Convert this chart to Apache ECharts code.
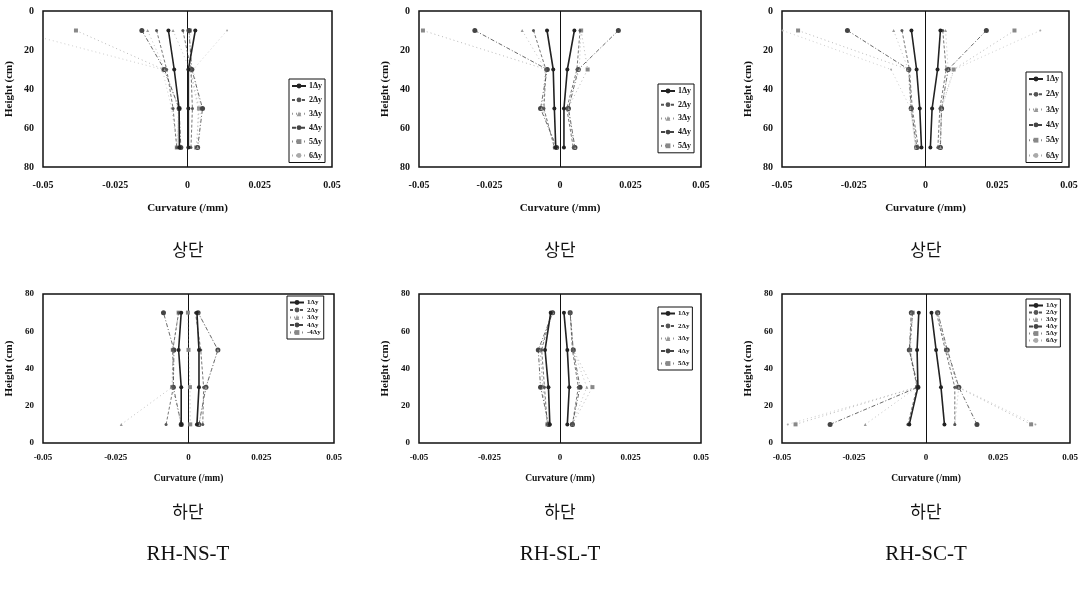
<!DOCTYPE html>
<html><head><meta charset="utf-8">
<script src="https://cdn.jsdelivr.net/npm/echarts@6/dist/echarts.min.js"></script>
<style>html,body{margin:0;padding:0;background:#fff;}#c{width:1086px;height:591px;}</style>
</head><body><div id="c"></div>
<script>
// heights of the measuring sections (cm)
const heights = [10, 30, 50, 70];
const xTicks = [-0.05, -0.025, 0, 0.025, 0.05];
const yTicks = [0, 20, 40, 60, 80];

const legendTop6 = ['1Δy','2Δy','3Δy','4Δy','5Δy','6Δy'];
const legendTop5 = ['1Δy','2Δy','3Δy','4Δy','5Δy'];
const legendNSbot = ['1Δy','2Δy','3Δy','4Δy','-4Δy'];

const panelTitles = ['RH-NS-T', 'RH-SL-T', 'RH-SC-T'];
const rowLabels = ['상단', '하단'];

// curvature values (/mm) at heights 10,30,50,70 — negative-side branch (L) and positive-side branch (R)
// RH-NS-T upper
const nsTopL = [
  [-0.0066,-0.0046,-0.0029,-0.0028],
  [-0.0107,-0.0072,-0.0050,-0.0037],
  [-0.0138,-0.0078,-0.0032,-0.0034],
  [-0.0158,-0.0080,-0.0029,-0.0023],
  [-0.0386,-0.0083,-0.0029,-0.0037],
  [-0.0600,-0.0087,-0.0055,-0.0036]
];
const nsTopR = [
  [0.0027,0.0003,0.0003,0.0003],
  [-0.0016,0.0012,0.0017,0.0012],
  [-0.0050,0.0008,0.0037,0.0035],
  [0.0005,0.0015,0.0052,0.0035],
  [0.0008,0.0010,0.0040,0.0030],
  [0.0137,0.0020,0.0045,0.0040]
];
// RH-SL-T upper
const slTopL = [
  [-0.0046,-0.0024,-0.0020,-0.0015],
  [-0.0094,-0.0050,-0.0057,-0.0020],
  [-0.0134,-0.0052,-0.0065,-0.0012],
  [-0.0302,-0.0045,-0.0069,-0.0012],
  [-0.0486,-0.0048,-0.0060,-0.0018]
];
const slTopR = [
  [0.0051,0.0026,0.0014,0.0014],
  [0.0071,0.0060,0.0024,0.0047],
  [0.0075,0.0068,0.0030,0.0053],
  [0.0207,0.0065,0.0030,0.0053],
  [0.0075,0.0098,0.0028,0.0050]
];
// RH-SC-T upper
const scTopL = [
  [-0.0049,-0.0031,-0.0020,-0.0014],
  [-0.0082,-0.0056,-0.0046,-0.0025],
  [-0.0111,-0.0060,-0.0052,-0.0035],
  [-0.0272,-0.0058,-0.0050,-0.0030],
  [-0.0444,-0.0060,-0.0050,-0.0033],
  [-0.0498,-0.0120,-0.0052,-0.0035]
];
const scTopR = [
  [0.0052,0.0042,0.0023,0.0017],
  [0.0060,0.0072,0.0050,0.0043],
  [0.0070,0.0079,0.0056,0.0052],
  [0.0212,0.0079,0.0056,0.0052],
  [0.0310,0.0098,0.0055,0.0050],
  [0.0400,0.0100,0.0056,0.0050]
];
// RH-NS-T lower
const nsBotL = [
  [-0.0025,-0.0025,-0.0034,-0.0025],
  [-0.0077,-0.0052,-0.0054,-0.0034],
  [-0.0231,-0.0056,-0.0054,-0.0034],
  [-0.0025,-0.0052,-0.0050,-0.0086],
  [-0.0025,-0.0056,-0.0054,-0.0034]
];
const nsBotR = [
  [0.0029,0.0036,0.0036,0.0029],
  [0.0049,0.0052,0.0042,0.0024],
  [0.0036,0.0060,0.0101,0.0033],
  [0.0036,0.0060,0.0101,0.0033],
  [0.0006,0.0005,0.0000,-0.0002]
];
// RH-SL-T lower
const slBotL = [
  [-0.0036,-0.0041,-0.0053,-0.0033],
  [-0.0045,-0.0055,-0.0065,-0.0030],
  [-0.0045,-0.0060,-0.0070,-0.0026],
  [-0.0040,-0.0069,-0.0077,-0.0026],
  [-0.0045,-0.0062,-0.0070,-0.0030]
];
const slBotR = [
  [0.0026,0.0033,0.0026,0.0014],
  [0.0044,0.0065,0.0044,0.0036],
  [0.0044,0.0095,0.0047,0.0036],
  [0.0044,0.0071,0.0047,0.0036],
  [0.0044,0.0115,0.0047,0.0036]
];
// RH-SC-T lower
const scBotL = [
  [-0.0058,-0.0028,-0.0031,-0.0025],
  [-0.0063,-0.0031,-0.0058,-0.0046],
  [-0.0211,-0.0031,-0.0055,-0.0051],
  [-0.0333,-0.0028,-0.0058,-0.0051],
  [-0.0453,-0.0031,-0.0055,-0.0046],
  [-0.0480,-0.0030,-0.0055,-0.0046]
];
const scBotR = [
  [0.0064,0.0052,0.0035,0.0019],
  [0.0100,0.0100,0.0067,0.0036],
  [0.0100,0.0114,0.0074,0.0041],
  [0.0177,0.0114,0.0074,0.0041],
  [0.0365,0.0110,0.0070,0.0040],
  [0.0380,0.0114,0.0070,0.0041]
];

const styles = [
  {type:'solid', width:1.6, color:'#222', symbol:'circle', size:4},
  {type:[3,2], width:0.8, color:'#555', symbol:'circle', size:3},
  {type:[1,3], width:0.6, color:'#999', symbol:'triangle', size:3},
  {type:[4,2,1,2], width:0.8, color:'#444', symbol:'circle', size:5},
  {type:[1,3], width:0.6, color:'#888', symbol:'rect', size:4},
  {type:[1,3], width:0.6, color:'#aaa', symbol:'circle', size:2}
];

const ser = 'Liberation Serif, Times New Roman, serif';
const panels = [
  {L:nsTopL, R:nsTopR, names:legendTop6, top:true,  grid:{left:43, top:11, width:289, height:156}, leg:{left:289, top:79, gap:5.9}},
  {L:slTopL, R:slTopR, names:legendTop5, top:true,  grid:{left:419, top:11, width:282, height:156}, leg:{left:658, top:84, gap:5.7}},
  {L:scTopL, R:scTopR, names:legendTop6, top:true,  grid:{left:782, top:11, width:287, height:156}, leg:{left:1026, top:72, gap:7.3}},
  {L:nsBotL, R:nsBotR, names:legendNSbot, top:false, grid:{left:43, top:294, width:291, height:149}, leg:{left:287, top:296, gap:0.5}},
  {L:slBotL, R:slBotR, names:legendTop5, top:false, grid:{left:419, top:294, width:282, height:149}, leg:{left:658, top:307, gap:5.5}},
  {L:scBotL, R:scBotR, names:legendTop6, top:false, grid:{left:782, top:294, width:288, height:149}, leg:{left:1026, top:299, gap:0}}
];

const grids = [], xAxes = [], yAxes = [], series = [], legends = [];
panels.forEach((p, gi) => {
  grids.push(Object.assign({show:true, borderColor:'#111', borderWidth:1.5, backgroundColor:'transparent'}, p.grid));
  const fs = p.top ? 10 : 9;
  xAxes.push({
    type:'value', gridIndex:gi, min:xTicks[0], max:xTicks[xTicks.length-1], interval:0.025,
    name:'Curvature (/mm)', nameLocation:'middle', nameGap: p.top ? 36 : 31,
    nameTextStyle:{fontFamily:ser, fontWeight:'bold', fontSize: p.top ? 11 : 9.5, color:'#111'},
    axisLine:{show:false}, axisTick:{show:false}, splitLine:{show:false},
    axisLabel:{fontFamily:ser, fontWeight:'bold', fontSize:fs, color:'#111', margin: p.top ? 13 : 10,
      formatter: v => (Math.abs(v) < 1e-9 ? '0' : String(+v.toFixed(3)))}
  });
  yAxes.push({
    type:'value', gridIndex:gi, min:yTicks[0], max:yTicks[yTicks.length-1], interval:20, inverse:p.top,
    name:'Height (cm)', nameLocation:'middle', nameGap:28,
    nameTextStyle:{fontFamily:ser, fontWeight:'bold', fontSize:11, color:'#111'},
    axisLine:{show:false}, axisTick:{show:false}, splitLine:{show:false},
    axisLabel:{fontFamily:ser, fontWeight:'bold', fontSize:fs, color:'#111', margin:9}
  });
  p.names.forEach((nm, i) => {
    const st = styles[i];
    [p.L[i], p.R[i]].forEach((arr, k) => {
      const s = {
        type:'line', name:nm, xAxisIndex:gi, yAxisIndex:gi,
        data: heights.map((h, j) => [arr[j], h]),
        symbol: st.symbol, symbolSize: st.size, showSymbol:true,
        lineStyle:{type:st.type, width:st.width, color:st.color},
        itemStyle:{color:st.color}, animation:false, silent:true, clip:true, z: 10 - i
      };
      if (i === 0 && k === 0) {
        s.markLine = {silent:true, symbol:'none', label:{show:false},
          lineStyle:{type:'solid', color:'#111', width:1}, data:[{xAxis:0}], animation:false};
      }
      series.push(s);
    });
  });
  legends.push({
    data:p.names, orient:'vertical', left:p.leg.left, top:p.leg.top,
    backgroundColor:'#fff', borderColor:'#111', borderWidth:1, padding:[3,3,3,2],
    itemWidth:14, itemHeight:6, itemGap:p.leg.gap, selectedMode:false,
    textStyle:{fontFamily:ser, fontWeight:'bold', fontSize: p.top ? 8 : 7, color:'#111', padding:[0,0,0,-2]}
  });
});

const centers = [188, 560, 926];
const chart = echarts.init(document.getElementById('c'), null, {renderer:'canvas'});
chart.setOption({
  animation:false, backgroundColor:'#fff',
  grid:grids, xAxis:xAxes, yAxis:yAxes, series:series, legend:legends,
  graphic: centers.flatMap((cx, i) => [
    {type:'text', x:cx, y:250, style:{text:rowLabels[0], font:'17px "Noto Sans CJK KR"', fill:'#111', align:'center', verticalAlign:'middle'}},
    {type:'text', x:cx, y:512, style:{text:rowLabels[1], font:'17px "Noto Sans CJK KR"', fill:'#111', align:'center', verticalAlign:'middle'}},
    {type:'text', x:cx, y:554, style:{text:panelTitles[i], font:'21px "Liberation Serif"', fill:'#111', align:'center', verticalAlign:'middle'}}
  ])
});
</script></body></html>
